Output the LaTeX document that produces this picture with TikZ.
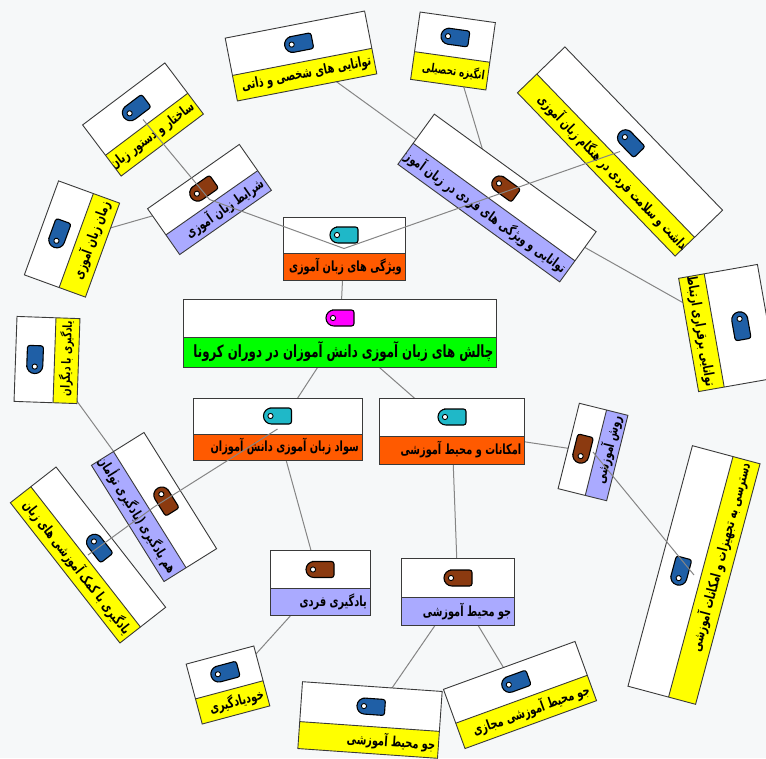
\documentclass[tikz,border=0pt]{standalone}
\usepackage{fontspec}
\newfontfamily\fa[Script=Arabic,FakeStretch=0.7]{DejaVu Sans}
\TeXXeTstate=1
\usetikzlibrary{calc}
\pgfdeclarelayer{back}
\pgfdeclarelayer{bg}
\pgfdeclarelayer{fg}
\pgfsetlayers{back,bg,main,fg}
\definecolor{cbg}{HTML}{F6F8F9}
\definecolor{strip0}{HTML}{00FF00}
\definecolor{strip1}{HTML}{FF5A00}
\definecolor{strip2}{HTML}{AAAAFF}
\definecolor{strip3}{HTML}{FFFF00}
\definecolor{icon0}{HTML}{FF00FF}
\definecolor{icon1}{HTML}{1FB8C8}
\definecolor{icon2}{HTML}{8B3A10}
\definecolor{icon3}{HTML}{1F5FA6}
\definecolor{cborder}{HTML}{3A3A3A}
\definecolor{cedge}{HTML}{858585}
\tikzset{
  cardline/.style={draw=cborder, line width=0.9pt},
  cardtext/.style={inner sep=0pt, font=\fa\bfseries\fontsize{14}{16}\selectfont},
  bigtext/.style={font=\fa\bfseries\fontsize{16.8}{18}\selectfont},
  smalltext/.style={font=\fa\bfseries\fontsize{12.5}{14}\selectfont},
  link/.style={draw=cedge, line width=1pt}
}
\newcommand\tagicon[2]{%
  \begin{scope}[shift={(#1)}]
    \draw[line width=1.1pt, fill=#2, draw=black] (0,-8) [rounded corners=2.5pt] -- (14,-8) -- (14,8) -- (0,8) [rounded corners=7.9pt] -- (-14,8) -- (-14,-8) -- cycle;
    \draw[line width=0.9pt, fill=white] (-7,0) circle (2.6pt);
  \end{scope}}
% #1 text node options, #2 name, #3 centre, #4 angle, #5 width, #6 height, #7 strip height, #8 level, #9 text
\newcommand\card[9][]{%
  \begin{scope}[shift={(#3)}, rotate=#4, transform shape]
    \pgfmathsetmacro\hw{#5/2}\pgfmathsetmacro\hh{#6/2}\pgfmathsetmacro\st{#6/2-#7}%
    \fill[white] (-\hw,-\hh) rectangle (\hw,\hh);
    \fill[strip#8] (-\hw,\st) rectangle (\hw,\hh);
    \begin{scope}
      \clip (-\hw,\st) rectangle (\hw,\hh);
      \node[cardtext, anchor=east, #1] (#2-t) at ({\hw-3},{(\st+\hh)/2}) {\beginR #9\endR};
    \end{scope}
    \draw[cardline] (-\hw,\st) -- (\hw,\st);
    \draw[cardline] (-\hw,-\hh) rectangle (\hw,\hh);
    \tagicon{0,{(\st-\hh)/2}}{icon#8}
    \coordinate (#2) at (0,0);
  \end{scope}}
\begin{document}
\begin{tikzpicture}[x=1pt,y=-1pt]
\begin{pgfonlayer}{back}
\fill[cbg] (0,0) rectangle (766,758);
\end{pgfonlayer}
\useasboundingbox (0,0) rectangle (766,758);
% level 0 and 1
\card[bigtext]{root}{340,333}{0}{313}{68}{30}{0}{چالش های زبان آموزی دانش آموزان در دوران کرونا}
\card{fa}{344,248.5}{0}{122}{63}{27}{1}{ویژگی های زبان آموزی}
\card{fb}{277.5,429}{0}{169}{62}{26}{1}{سواد زبان آموزی دانش آموزان}
\card{fc}{452,431}{0}{145}{66}{28}{1}{امکانات و محیط آموزشی}
% level 2
\card{sa}{209.5,199.5}{35}{112}{56}{24}{2}{شرایط زبان آموزی}
\card{sb}{497,198}{-36}{200}{62}{26}{2}{توانایی و ویژگی های فردی در زبان آموزی}
\card{sc}{154,507}{-58}{137}{62}{26}{2}{هم یادگیری (یادگیری توأمان)}
\card{sd}{320,583}{0}{100}{65}{27}{2}{یادگیری فردی}
\card{se}{593,452}{76}{88}{50}{22}{2}{روش آموزشی}
\card{sf}{458,592}{0}{113}{67}{28}{2}{جو محیط آموزشی}
% level 3
\card{ta}{143,119.5}{37}{103}{64}{26}{3}{ساختار و دستور زبان}
\card{tb}{72,239}{70}{100}{65}{28}{3}{زمان زبان آموزی}
\card[smalltext]{tc}{47,360}{88}{85}{63}{24}{3}{یادگیری با دیگران}
\card{td}{301,56}{11}{142}{64}{26}{3}{توانایی های شخصی و ذاتی}
\card[smalltext]{te}{453,51}{-8}{76}{68}{28}{3}{انگیزه تحصیلی}
\card[xshift=14pt]{tf}{620,151.5}{-46}{227}{66}{27}{3}{بهداشت و سلامت فردی در هنگام زبان آموزی}
\card{tg}{728,328}{-80}{115}{80}{26}{3}{توانایی برقراری ارتباط با دیگران}
\card{th}{88,555}{-52}{178}{58}{26}{3}{یادگیری با کمک آموزشی های زبان}
\card{ti}{228,685}{15}{70}{62}{26}{3}{خودیادگیری}
\card{tj}{370,720}{-4}{140}{67}{27}{3}{جو محیط آموزشی}
\card{tk}{520,695}{20}{140}{63}{27}{3}{جو محیط آموزشی مجازی}
\card{tl}{694,575}{75}{249}{70}{28}{3}{دسترسی به تجهیزات و امکانات آموزشی}
% links under the cards
\begin{pgfonlayer}{bg}
  \draw[link] (root) -- (fa);
  \draw[link] (root) -- (fb);
  \draw[link] (root) -- (fc);
  \draw[link] (sa) -- (tb);
  \draw[link] (sb) -- (td);
  \draw[link] (sb) -- (te);
  \draw[link] (sb) -- (tg);
  \draw[link] (sc) -- (tc);
  \draw[link] (fb) -- (sd);
  \draw[link] (sd) -- (ti);
  \draw[link] (fc) -- (se);
  \draw[link] (fc) -- (sf);
  \draw[link] (sf) -- (tj);
  \draw[link] (sf) -- (tk);
\end{pgfonlayer}
% links over the cards
\begin{pgfonlayer}{fg}
  \draw[link] (ta) -- (sa) -- (fa) -- (tf);
  \draw[link] (fb) -- (sc) -- (th);
  \draw[link] (se) -- (tl);
\end{pgfonlayer}
\end{tikzpicture}
\end{document}
